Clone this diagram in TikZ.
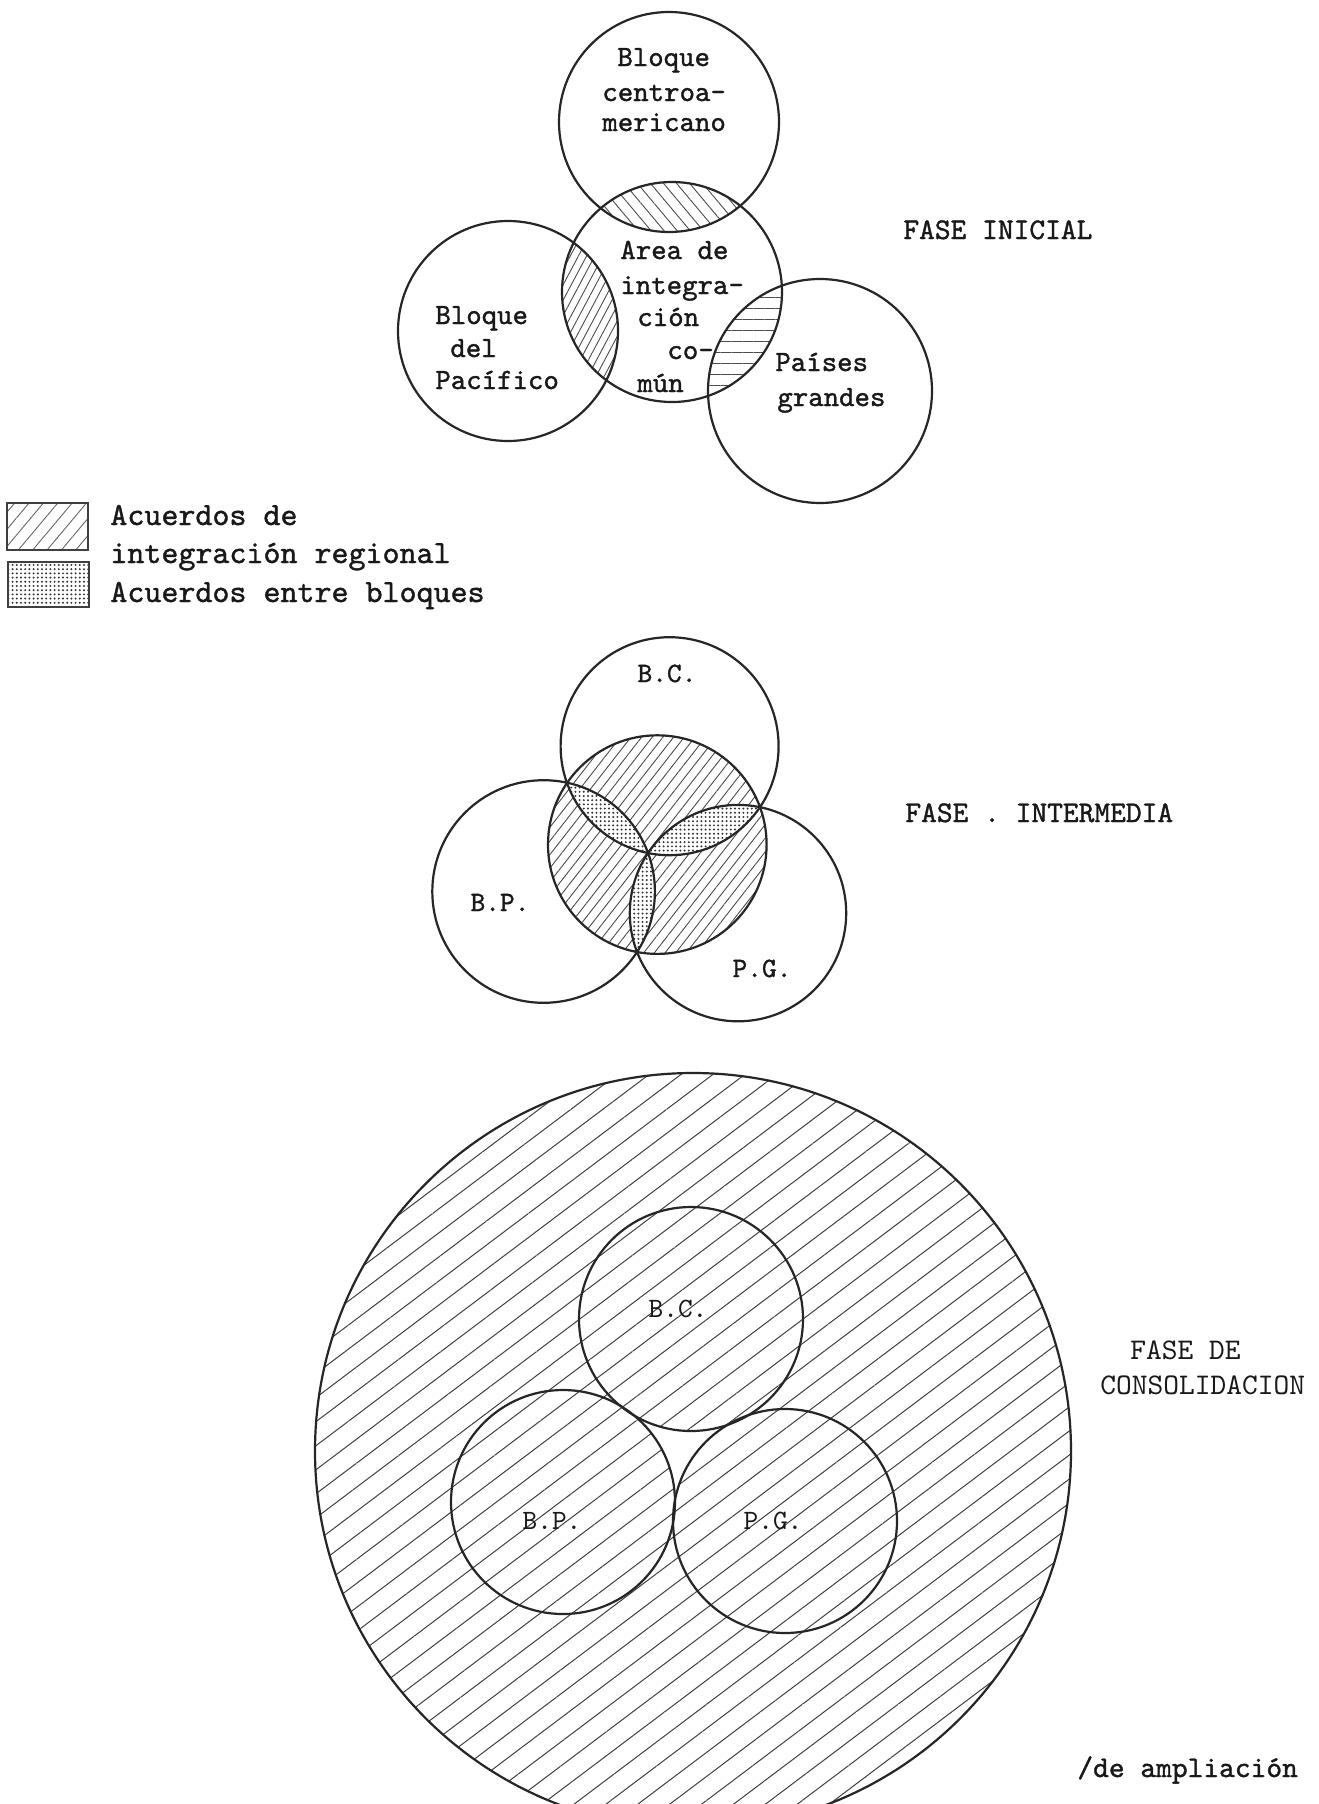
\documentclass[tikz,border=0pt]{standalone}
\usepackage{fontspec}
\newfontfamily\tw[FakeBold=1.2]{lmmono10-regular.otf}
\newfontfamily\twl{lmmono10-regular.otf}
\usetikzlibrary{patterns.meta}
\begin{document}
\begin{tikzpicture}[x=0.5pt,y=-0.5pt,
  outline/.style={draw=black!85,line width=1.1pt},
  boxline/.style={draw=black!75,line width=0.7pt},
  txt/.style={inner sep=0pt,anchor=base west,text=black!90,font=\tw\fontsize{14.7pt}{16pt}\selectfont},
  txtc/.style={inner sep=0pt,anchor=base,text=black!90,font=\tw\fontsize{14pt}{16pt}\selectfont},
  txtl/.style={inner sep=0pt,anchor=base,text=black!90,font=\twl\fontsize{14pt}{16pt}\selectfont},
  leg/.style={inner sep=0pt,anchor=base west,text=black!90,font=\tw\fontsize{16.2pt}{18pt}\selectfont},
  phase/.style={inner sep=0pt,anchor=base west,text=black!90,font=\tw\fontsize{15pt}{17pt}\selectfont},
  phasel/.style={inner sep=0pt,anchor=base west,text=black!90,font=\twl\fontsize{15pt}{17pt}\selectfont},
  hatchA/.style={pattern={Lines[angle=-50,distance=5pt,line width=0.45pt]},pattern color=black!70},
  hatchB/.style={pattern={Lines[angle=62,distance=3.6pt,line width=0.45pt]},pattern color=black!70},
  hatchC/.style={pattern={Lines[angle=0,distance=5.5pt,line width=0.45pt]},pattern color=black!70},
  hatchM/.style={pattern={Lines[angle=52,distance=4.2pt,line width=0.45pt]},pattern color=black!70},
  hatchL/.style={pattern={Lines[angle=50,distance=5.5pt,line width=0.45pt]},pattern color=black!60},
  hatchBig/.style={pattern={Lines[angle=37,distance=9.6pt,line width=0.5pt]},pattern color=black!75},
  stipple/.style={pattern={Dots[distance=2.1pt,radius=0.55pt]},pattern color=black!80}
]
\useasboundingbox (0,0) rectangle (1318,1804);
\fill[white] (0,0) rectangle (1318,1804);
\clip (0,0) rectangle (1318,1804);

% ---------------- FASE INICIAL ----------------
\coordinate (IBC) at (669,122);
\coordinate (IAR) at (672,292);
\coordinate (IBP) at (508,331);
\coordinate (IPG) at (820,391);
\begin{scope}
  \clip (IAR) circle[radius=110];
  \fill[hatchA] (IBC) circle[radius=110];
  \fill[hatchB] (IBP) circle[radius=110];
  \fill[hatchC] (IPG) circle[radius=112];
\end{scope}
\draw[outline] (IBC) circle[radius=110];
\draw[outline] (IAR) circle[radius=110];
\draw[outline] (IBP) circle[radius=110];
\draw[outline] (IPG) circle[radius=112];

\node[txt] (tc1) at (617,66) {Bloque};
\node[txt] (tc2) at (602,101) {centroa-};
\node[txt] (tc3) at (602,131) {mericano};
\node[txt] (ta1) at (620,259) {Area de};
\node[txt] (ta2) at (620,294) {integra-};
\node[txt] (ta3) at (637,326) {ción};
\node[txt] (ta4) at (667,359) {co-};
\node[txt] (ta5) at (637,392) {mún};
\node[txt] (tb1) at (435,324) {Bloque};
\node[txt] (tb2) at (450,357) {del};
\node[txt] (tb3) at (435,389) {Pacífico};
\node[txt] (tp1) at (775,371) {Países};
\node[txt] (tp2) at (777,406) {grandes};
\node[phase] (fase1) at (903,239) {FASE INICIAL};

% ---------------- Legend ----------------
\fill[hatchL] (7,503) rectangle (88,550);
\draw[boxline] (7,503) rectangle (88,550);
\fill[stipple] (8,562) rectangle (89,607);
\draw[boxline] (8,562) rectangle (89,607);
\node[leg] (l1) at (110,525) {Acuerdos de};
\node[leg] (l2) at (110,563) {integración regional};
\node[leg] (l3) at (110,602) {Acuerdos entre bloques};

% ---------------- FASE INTERMEDIA ----------------
\coordinate (MBC) at (669.6,746.2);
\coordinate (MBP) at (543.6,891.5);
\coordinate (MPG) at (738,913.1);
\coordinate (MAR) at (657.3,844.6);
\fill[hatchM] (MAR) circle[radius=109.3];
\begin{scope}
  \clip (MAR) circle[radius=109.3];
  \begin{scope}
    \clip (MBC) circle[radius=109];
    \fill[white] (MBP) circle[radius=111.3];
    \fill[stipple] (MBP) circle[radius=111.3];
    \fill[white] (MPG) circle[radius=108.2];
    \fill[stipple] (MPG) circle[radius=108.2];
  \end{scope}
  \begin{scope}
    \clip (MBP) circle[radius=111.3];
    \fill[white] (MPG) circle[radius=108.2];
    \fill[stipple] (MPG) circle[radius=108.2];
  \end{scope}
\end{scope}
\draw[outline] (MBC) circle[radius=109];
\draw[outline] (MBP) circle[radius=111.3];
\draw[outline] (MPG) circle[radius=108.2];
\draw[outline] (MAR) circle[radius=109.3];
\node[txtc] (m1) at (667,682) {B.C.};
\node[txtc] (m2) at (500,911) {B.P.};
\node[txtc] (m3) at (762,977) {P.G.};
\node[phase] (fase2) at (905,822) {FASE . INTERMEDIA};

% ---------------- FASE DE CONSOLIDACION ----------------
\coordinate (CBIG) at (693,1451);
\coordinate (CBC) at (691,1319);
\coordinate (CBP) at (563,1502);
\coordinate (CPG) at (785,1521);
\begin{scope}
  \clip (CBIG) circle[radius=378];
  \fill[hatchBig] (CBIG) circle[radius=378];
\end{scope}
\fill[white] (CBC) -- (CBP) -- (CPG) -- cycle;
\begin{scope}
  \clip (CBC) -- (CBP) -- (CPG) -- cycle;
  \fill[hatchBig] (CBC) circle[radius=112];
  \fill[hatchBig] (CBP) circle[radius=112];
  \fill[hatchBig] (CPG) circle[radius=112];
\end{scope}
\draw[outline] (CBIG) circle[radius=378];
\draw[outline] (CBC) circle[radius=112];
\draw[outline] (CBP) circle[radius=112];
\draw[outline] (CPG) circle[radius=112];
\node[txtl] (c1) at (678,1317) {B.C.};
\node[txtl] (c2) at (552,1529) {B.P.};
\node[txtl] (c3) at (773,1529) {P.G.};
\node[phasel] (fase3a) at (1130,1359) {FASE DE};
\node[phasel] (fase3b) at (1100,1394) {CONSOLIDACION};
\node[phase] (amp) at (1077,1777) {/de ampliación};
\end{tikzpicture}
\end{document}
